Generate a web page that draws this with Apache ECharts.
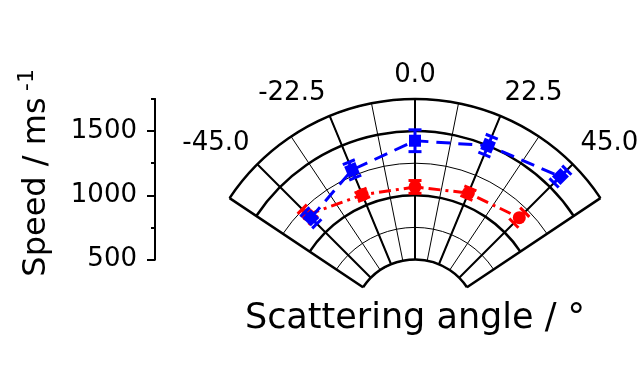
<!DOCTYPE html>
<html>
<head>
<meta charset="utf-8">
<script src="https://cdn.jsdelivr.net/npm/echarts@6.0.0/dist/echarts.min.js"></script>
<style>
  html, body { margin: 0; padding: 0; background: #fff; }
  #main { width: 642px; height: 376px; }
</style>
</head>
<body>
<div id="main"></div>
<script>
// scattering angles (deg) and speeds (m/s)
var angles = [-45, -22.5, 0, 22.5, 45];
var blueSpeed = [1160, 1295, 1425, 1500, 1615];
var blueErr = [65, 65, 85, 75, 70];
var redSpeed = [1195, 1085, 1065, 1100, 1162];
var redErr = [60, 35, 50, 40, 60];
var speedLabels = [500, 1000, 1500];

var FONT = "DejaVu Sans";
var center = [415, 322];
var radius = [62.5, 223];

var myChart = echarts.init(document.getElementById("main"));

function errBar(color) {
  return function (params, api) {
    var r = api.value(0), a = api.value(1), e = api.value(2);
    var p1 = api.coord([r - e, a]);
    var p2 = api.coord([r + e, a]);
    var dx = p2[0] - p1[0], dy = p2[1] - p1[1];
    var len = Math.sqrt(dx * dx + dy * dy) || 1;
    var nx = (-dy / len) * 6.5, ny = (dx / len) * 6.5;
    var st = { stroke: color, lineWidth: 3 };
    return {
      type: "group",
      children: [
        { type: "line", shape: { x1: p1[0], y1: p1[1], x2: p2[0], y2: p2[1] }, style: st },
        { type: "line", shape: { x1: p1[0] - nx, y1: p1[1] - ny, x2: p1[0] + nx, y2: p1[1] + ny }, style: st },
        { type: "line", shape: { x1: p2[0] - nx, y1: p2[1] - ny, x2: p2[0] + nx, y2: p2[1] + ny }, style: st },
      ],
    };
  };
}

function hiddenRadius(idx, interval, width) {
  return {
    polarIndex: idx,
    type: "value",
    min: 500,
    max: 1750,
    interval: interval,
    axisLine: { show: false },
    axisTick: { show: false },
    axisLabel: { show: false },
    splitLine: { show: width > 0, lineStyle: { color: "#000", width: width } },
  };
}

var option = {
  backgroundColor: "#fff",
  animation: false,
  grid: { left: 155, top: 99, height: 160.5, width: 20 },
  xAxis: { type: "value", show: false },
  yAxis: [
    {
      type: "value",
      position: "left",
      offset: 0,
      min: 500,
      max: 1750,
      interval: 250,
      axisLine: { show: true, lineStyle: { color: "#000", width: 2 } },
      axisTick: { show: true, length: 4, lineStyle: { color: "#000", width: 2 } },
      axisLabel: {
        margin: 18,
        color: "#000",
        fontFamily: FONT,
        fontSize: 26,
        formatter: function (v) {
          return speedLabels.indexOf(v) >= 0 ? String(v) : "";
        },
      },
      splitLine: { show: false },
    },
    {
      type: "value",
      position: "left",
      offset: 0,
      min: 500,
      max: 1750,
      interval: 500,
      axisLine: { show: true, lineStyle: { color: "#000", width: 2 } },
      axisTick: { show: true, length: 8, customValues: speedLabels, lineStyle: { color: "#000", width: 2 } },
      axisLabel: { show: false },
      splitLine: { show: false },
    },
  ],
  polar: [
    { center: center, radius: radius },
    { center: center, radius: radius },
    { center: center, radius: radius },
  ],
  angleAxis: [
    {
      // thin spokes every 11.25
      polarIndex: 0,
      type: "value",
      min: -56.25,
      max: 56.25,
      interval: 11.25,
      startAngle: 146.25,
      endAngle: 33.75,
      axisLine: { show: false },
      axisTick: { show: false },
      axisLabel: { show: false },
      splitLine: { show: true, lineStyle: { color: "#000", width: 1 } },
    },
    {
      // thick sector edges
      polarIndex: 1,
      type: "value",
      min: -56.25,
      max: 56.25,
      interval: 112.5,
      startAngle: 146.25,
      endAngle: 33.75,
      axisLine: { show: false },
      axisTick: { show: false },
      axisLabel: { show: false },
      splitLine: { show: true, lineStyle: { color: "#000", width: 2.5 } },
    },
    {
      // thick spokes + labels
      polarIndex: 2,
      type: "value",
      min: -45,
      max: 45,
      interval: 22.5,
      startAngle: 135,
      endAngle: 45,
      axisLine: { show: false },
      axisTick: { show: false },
      axisLabel: {
        margin: 11,
        color: "#000",
        fontFamily: FONT,
        fontSize: 26,
        formatter: function (v) {
          return v.toFixed(1);
        },
      },
      splitLine: { show: true, lineStyle: { color: "#000", width: 2 } },
    },
  ],
  radiusAxis: [hiddenRadius(0, 250, 1), hiddenRadius(1, 500, 2.5), hiddenRadius(2, 500, 0)],
  graphic: [
    {
      type: "text",
      x: 37,
      y: 187,
      rotation: Math.PI / 2,
      style: {
        text: "Speed / ms",
        fill: "#000",
        font: "32px " + FONT,
        align: "center",
        verticalAlign: "middle",
        textAlign: "center",
        textVerticalAlign: "middle",
      },
    },
    {
      type: "text",
      x: 27,
      y: 80,
      rotation: Math.PI / 2,
      style: {
        text: "-1",
        fill: "#000",
        font: "22px " + FONT,
        align: "center",
        verticalAlign: "middle",
        textAlign: "center",
        textVerticalAlign: "middle",
      },
    },
    {
      type: "text",
      x: 415,
      y: 319,
      style: {
        text: "Scattering angle / °",
        fill: "#000",
        font: "35px " + FONT,
        align: "center",
        verticalAlign: "middle",
        textAlign: "center",
        textVerticalAlign: "middle",
      },
    },
  ],
  series: [
    {
      name: "red-err",
      type: "custom",
      coordinateSystem: "polar",
      polarIndex: 0,
      data: angles.map(function (a, i) { return [redSpeed[i], a, redErr[i]]; }),
      renderItem: errBar("#ff0000"),
      z: 3,
    },
    {
      name: "red",
      type: "line",
      coordinateSystem: "polar",
      polarIndex: 0,
      symbol: "circle",
      symbolSize: 13,
      data: angles.map(function (a, i) { return [redSpeed[i], a]; }),
      lineStyle: { color: "#ff0000", width: 3, type: [12, 5, 3, 5] },
      itemStyle: { color: "#ff0000" },
      z: 4,
    },
    {
      name: "blue-err",
      type: "custom",
      coordinateSystem: "polar",
      polarIndex: 0,
      data: angles.map(function (a, i) { return [blueSpeed[i], a, blueErr[i]]; }),
      renderItem: errBar("#0000ff"),
      z: 5,
    },
    {
      name: "blue",
      type: "line",
      coordinateSystem: "polar",
      polarIndex: 0,
      symbol: "rect",
      symbolSize: 12,
      data: angles.map(function (a, i) {
        return { value: [blueSpeed[i], a], symbolRotate: -a };
      }),
      lineStyle: { color: "#0000ff", width: 3, type: [14, 8] },
      itemStyle: { color: "#0000ff" },
      z: 6,
    },
  ],
};

myChart.setOption(option);
window.onresize = function () {
  myChart.resize();
};
</script>
</body>
</html>
